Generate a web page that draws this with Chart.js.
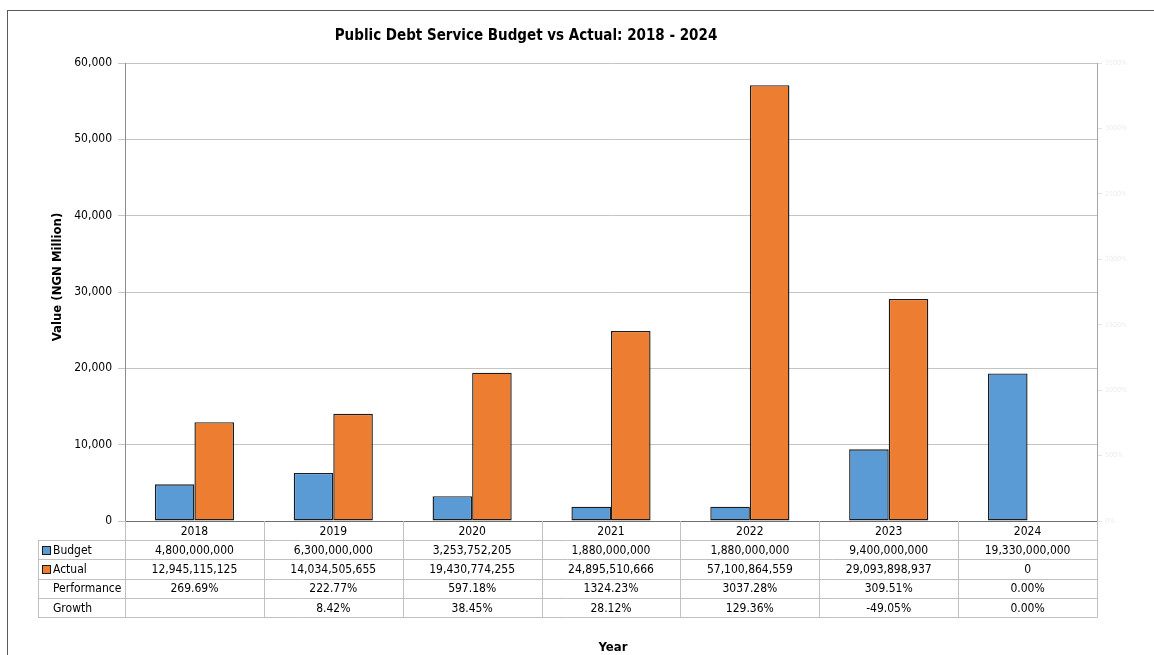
<!DOCTYPE html>
<html>
<head>
<meta charset="utf-8">
<title>Public Debt Service Budget vs Actual</title>
<script src="https://cdn.jsdelivr.net/npm/chart.js@4.4.1/dist/chart.umd.min.js"></script>
<style>
  html, body { margin: 0; padding: 0; background: #fff; }
  canvas { display: block; }
</style>
</head>
<body>
<canvas id="debtChart" width="1154" height="655"></canvas>
<script>
// Yearly figures in Naira; the bars are plotted in millions
const years = ['2018', '2019', '2020', '2021', '2022', '2023', '2024'];
const budget = [4800000000, 6300000000, 3253752205, 1880000000, 1880000000, 9400000000, 19330000000];
const actual = [12945115125, 14034505655, 19430774255, 24895510666, 57100864559, 29093898937, 0];
const performance = [269.69, 222.77, 597.18, 1324.23, 3037.28, 309.51, 0.00];
const growth = [null, 8.42, 38.45, 28.12, 129.36, -49.05, 0.00];

const valueTicks = { min: 0, max: 60000, step: 10000 };
const percentTicks = { min: 0, max: 3500, step: 500 };

const BLUE = '#5b9bd5';
const ORANGE = '#ed7d31';
const FONT = '"DejaVu Sans Condensed", "Liberation Sans", sans-serif';

const toMillions = v => v / 1e6;

// frame, titles and the data table under the x axis
const decorations = {
    id: 'decorations',
    beforeDraw(chart) {
        const ctx = chart.ctx;
        ctx.save();
        ctx.strokeStyle = '#5a5a5a';
        ctx.lineWidth = 1;
        ctx.strokeRect(7.5, 10.5, 1300, 800);
        ctx.restore();
    },
    afterDraw(chart) {
        const { ctx, chartArea } = chart;
        const x = chart.scales.x;
        const colW = x.width / years.length;
        const top = chartArea.bottom;
        const rowH = 19.2;
        const headLeft = 38;
        const right = chartArea.right;
        const yRow = r => Math.round(top + r * rowH) + 0.5;

        ctx.save();
        // titles
        ctx.fillStyle = '#000';
        ctx.textAlign = 'center';
        ctx.textBaseline = 'middle';
        ctx.font = 'bold 15px ' + FONT;
        ctx.fillText('Public Debt Service Budget vs Actual: 2018 - 2024', 526, 36);
        ctx.font = 'bold 13px ' + FONT;
        ctx.fillText('Year', 613, 648);
        ctx.save();
        ctx.translate(58, 277);
        ctx.rotate(-Math.PI / 2);
        ctx.font = 'bold 13px ' + FONT;
        ctx.fillText('Value (NGN Million)', 0, 0);
        ctx.restore();

        // table grid
        ctx.strokeStyle = '#c0c0c0';
        ctx.lineWidth = 1;
        ctx.beginPath();
        for (let r = 1; r <= 5; r++) {
            ctx.moveTo(headLeft, yRow(r));
            ctx.lineTo(right, yRow(r));
        }
        for (let i = 0; i <= years.length; i++) {
            const cx = Math.round(x.getPixelForValue(i) - colW / 2) + 0.5;
            ctx.moveTo(cx, top);
            ctx.lineTo(cx, yRow(5));
        }
        ctx.moveTo(headLeft + 0.5, yRow(1));
        ctx.lineTo(headLeft + 0.5, yRow(5));
        ctx.stroke();

        // row headers with legend keys
        const heads = [
            { label: 'Budget', color: BLUE },
            { label: 'Actual', color: ORANGE },
            { label: 'Performance' },
            { label: 'Growth' }
        ];
        ctx.font = '12px ' + FONT;
        ctx.textAlign = 'left';
        heads.forEach((h, r) => {
            const cy = top + (r + 1.5) * rowH;
            if (h.color) {
                ctx.fillStyle = h.color;
                ctx.fillRect(42.5, Math.round(cy - 4) + 0.5, 8, 8);
                ctx.strokeStyle = '#1a1a1a';
                ctx.strokeRect(42.5, Math.round(cy - 4) + 0.5, 8, 8);
            }
            ctx.fillStyle = '#000';
            ctx.fillText(h.label, 53, cy + 1);
        });

        // cell values
        const fmtNum = v => v.toLocaleString('en-US');
        const fmtPct = v => (v === null ? '' : v.toFixed(2) + '%');
        ctx.textAlign = 'center';
        years.forEach((yr, i) => {
            const cx = x.getPixelForValue(i);
            const cells = [yr, fmtNum(budget[i]), fmtNum(actual[i]), fmtPct(performance[i]), fmtPct(growth[i])];
            cells.forEach((t, r) => ctx.fillText(t, cx, top + (r + 0.5) * rowH + 1));
        });
        ctx.restore();
    }
};

const ctx = document.getElementById('debtChart').getContext('2d');
const debtChart = new Chart(ctx, {
    type: 'bar',
    data: {
        labels: years,
        datasets: [{
            label: 'Budget',
            data: budget.map(toMillions),
            backgroundColor: BLUE,
            borderColor: '#1c1c1c',
            borderWidth: 1.4,
            borderSkipped: false,
            yAxisID: 'y'
        }, {
            label: 'Actual',
            data: actual.map(toMillions),
            backgroundColor: ORANGE,
            borderColor: '#1c1c1c',
            borderWidth: 1.4,
            borderSkipped: false,
            yAxisID: 'y'
        }]
    },
    options: {
        responsive: false,
        animation: false,
        categoryPercentage: 0.57,
        barPercentage: 1.0,
        layout: { padding: { top: 63, left: 0, right: 0, bottom: 0 } },
        plugins: {
            legend: { display: false },
            title: { display: false },
            tooltip: { enabled: false }
        },
        scales: {
            x: {
                grid: { display: false },
                border: { display: true, color: '#6e6e6e' },
                ticks: { display: false },
                afterFit(scale) { scale.height = 134; }
            },
            y: {
                position: 'left',
                min: valueTicks.min,
                max: valueTicks.max,
                ticks: {
                    stepSize: valueTicks.step,
                    color: '#000',
                    padding: 6,
                    font: { family: FONT, size: 12 },
                    callback: v => v.toLocaleString('en-US')
                },
                grid: { color: '#c4c4c4', tickLength: 7 },
                border: { color: '#8c8c8c' },
                afterFit(scale) { scale.width = 125; }
            },
            y2: {
                position: 'right',
                min: percentTicks.min,
                max: percentTicks.max,
                ticks: {
                    stepSize: percentTicks.step,
                    color: '#ececec',
                    padding: 3,
                    font: { family: FONT, size: 7 },
                    callback: v => v + '%'
                },
                grid: { drawOnChartArea: false, color: '#e2e2e2', tickLength: 5 },
                border: { color: '#a6a6a6' },
                afterFit(scale) { scale.width = 57; }
            }
        }
    },
    plugins: [decorations]
});
</script>
</body>
</html>
